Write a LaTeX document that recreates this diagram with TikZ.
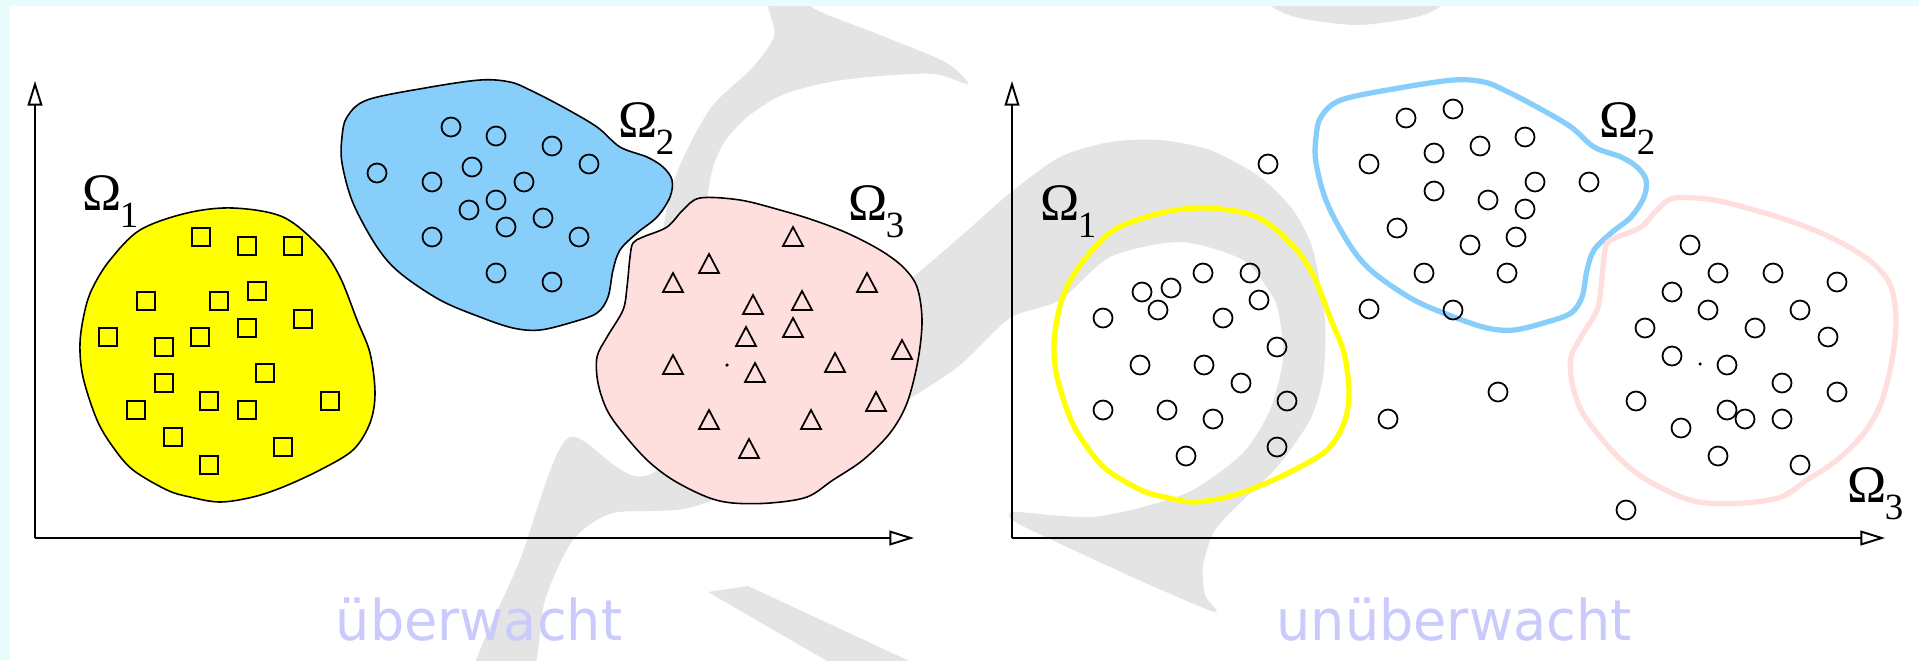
\documentclass[tikz,border=0pt]{standalone}
\usepackage{fontspec}
\usetikzlibrary{arrows.meta}
\newfontfamily\omfont{Liberation Serif}
\newfontfamily\capfont[FakeStretch=0.96]{DejaVu Sans}
\definecolor{yel}{RGB}{255,255,0}
\definecolor{blu}{RGB}{135,206,250}
\definecolor{pnk}{RGB}{255,222,222}
\definecolor{wm}{RGB}{228,228,228}
\definecolor{cyn}{RGB}{232,252,252}
\definecolor{lav}{RGB}{202,202,252}
\newcommand{\OmLab}[1]{{\omfont\fontsize{15}{18}\selectfont Ω\kern-0.6pt\raisebox{-5.1pt}{\fontsize{10.5}{12}\selectfont #1}}}
\tikzset{
  yfillst/.style={fill=yel, draw=black, line width=0.45pt},
  bfillst/.style={fill=blu, draw=black, line width=0.45pt},
  pfillst/.style={fill=pnk, draw=black, line width=0.45pt},
  ylinest/.style={draw=yel, line width=1.5pt},
  blinest/.style={draw=blu, line width=1.5pt},
  plinest/.style={draw=pnk, line width=1.5pt},
  mkst/.style={draw=black, line width=0.5pt},
  axst/.style={line width=0.55pt, -{Triangle[open, length=7pt, width=4.2pt]}},
  omst/.style={anchor=base west, inner sep=0pt},
  capst/.style={anchor=base, inner sep=0pt, text=lav, font={\capfont\fontsize{16}{19}\selectfont}}
}
\begin{document}
\begin{tikzpicture}[x=0.01cm, y=-0.01cm]
\useasboundingbox (0,0) rectangle (1919,660);
\fill[white] (0,0) rectangle (1919,660);
% watermark
\begin{scope}
\clip (0,0) rectangle (1919,660);
\fill[wm] plot[smooth cycle, tension=0.5] coordinates {(700,400) (652,330) (660,250) (671,190) (688,148) (713,105) (752,68) (774,36) (768,5) (770,-25) (800,-25) (810,6) (880,35) (945,62) (968,84) (935,74) (880,76) (830,82) (782,95) (746,118) (722,146) (710,180) (705,240) (712,330) (725,400)};
\fill[wm] plot[smooth cycle, tension=0.45] coordinates {(471,680) (520,560) (568,438) (645,476) (780,380) (870,310) (913,277) (960,237) (1010,193) (1060,157) (1110,142) (1160,140) (1210,150) (1260,177) (1293,210) (1313,250) (1325,320) (1323,377) (1310,420) (1277,467) (1243,500) (1215,530) (1203,565) (1205,595) (1215,612) (1150,585) (1080,553) (1015,522) (1012,512) (1050,515) (1093,517) (1143,507) (1193,490) (1243,453) (1270,410) (1283,360) (1280,320) (1273,297) (1243,260) (1180,242) (1110,257) (1060,300) (1010,318) (960,365) (907,400) (800,460) (693,507) (613,513) (573,540) (545,600) (530,680)};
\fill[wm] (708,592) -- (748,586) -- (950,680) -- (860,680) -- cycle;
\fill[wm] plot[smooth cycle, tension=0.5] coordinates {(1258,-10) (1265,2) (1295,17) (1358,25) (1420,16) (1446,2) (1450,-10)};
\end{scope}
\fill[cyn] (0,0) rectangle (1919,6);
\fill[cyn] (0,0) rectangle (10,660);
% regions
\foreach \dx/\ys/\bs/\ps in {0/yfillst/bfillst/pfillst, 974/ylinest/blinest/plinest}{
  \begin{scope}[xshift=\dx*0.01cm]
    \path[\ys] plot[smooth cycle, tension=0.55] coordinates {(233,208) (283,217) (320,247) (340,277) (357,320) (370,353) (375,393) (370,423) (353,450) (320,470) (283,487) (253,497) (220,502) (190,497) (167,490) (133,470) (113,447) (97,420) (83,377) (80,343) (85,310) (93,287) (110,260) (140,230) (187,213)};
    \path[\bs] plot[smooth cycle, tension=0.55] coordinates {(367,100) (425,88) (480,80) (510,82) (530,90) (563,107) (597,127) (620,147) (647,157) (663,167) (672,180) (670,197) (657,217) (637,233) (620,250) (613,270) (608,297) (597,313) (573,322) (540,330) (513,328) (480,317) (440,300) (400,273) (377,247) (353,203) (342,163) (342,137) (347,117)};
    \path[\ps] plot[smooth cycle, tension=0.55] coordinates {(700,198) (740,200) (780,210) (813,220) (847,233) (880,250) (903,267) (917,287) (922,320) (918,360) (907,403) (890,433) (863,460) (833,480) (807,497) (770,503) (733,503) (707,497) (673,480) (647,460) (623,433) (607,410) (598,383) (597,357) (607,337) (623,310) (627,287) (630,257) (633,243) (643,237) (667,227) (683,210)};
  \end{scope}
}
% left markers
\foreach \x/\y in {201/237,247/246,293/246,146/301,219/301,257/291,303/319,247/328,108/337,164/347,200/337,265/373,164/383,209/401,136/410,247/410,330/401,173/437,283/447,209/465}
  \draw[mkst] ({\x-9},{\y-9}) rectangle ({\x+9},{\y+9});
\foreach \x/\y in {451/127,377/173,432/182,472/167,469/210,432/237,496/136,552/146,589/164,524/182,496/200,543/218,506/227,579/237,496/273,552/282}
  \draw[mkst] (\x,\y) circle[radius=2.7pt];
\foreach \x/\y in {793/237,709/264,673/283,867/283,753/305,802/301,793/328,746/337,902/350,673/365,755/373,835/363,876/402,709/420,811/420,749/449}
  \draw[mkst, line join=miter] ({\x-10},{\y+9}) -- (\x,{\y-10}) -- ({\x+10},{\y+9}) -- cycle;
\fill (727,365) circle[radius=0.5pt];
% right markers
\foreach \x/\y in {1203/273,1250/273,1142/292,1171/288,1158/310,1223/318,1259/300,1103/318,1277/347,1140/365,1204/365,1241/383,1287/401,1103/410,1167/410,1213/419,1186/456,1277/447,
  1268/164,1369/309,1388/419,1498/392,1626/510,
  1453/109,1406/118,1480/146,1525/137,1434/153,1369/164,1535/182,1589/182,1434/191,1488/200,1525/209,1397/228,1516/237,1470/245,1424/273,1507/273,1453/310,
  1690/245,1718/273,1773/273,1837/282,1672/292,1708/310,1800/310,1645/328,1755/328,1828/337,1672/356,1727/365,1782/383,1837/392,1636/401,1727/410,1745/419,1782/419,1681/428,1718/456,1800/465}
  \draw[mkst] (\x,\y) circle[radius=2.7pt];
\fill (1700,364) circle[radius=0.5pt];
% axes
\coordinate (oL) at (35,538);
\coordinate (yL) at (35,81);
\coordinate (xL) at (914,538);
\coordinate (oR) at (1012,538);
\coordinate (yR) at (1012,81);
\coordinate (xR) at (1885,538);
\draw[axst] (oL) -- (yL);
\draw[axst] (oL) -- (xL);
\draw[axst] (oR) -- (yR);
\draw[axst] (oR) -- (xR);
% labels
\node[omst] (o1L) at (82,210) {\OmLab{1}};
\node[omst] (o2L) at (618,137) {\OmLab{2}};
\node[omst] (o3L) at (848,220) {\OmLab{3}};
\node[omst] (o1R) at (1040,220) {\OmLab{1}};
\node[omst] (o2R) at (1599,137) {\OmLab{2}};
\node[omst] (o3R) at (1847,502) {\OmLab{3}};
\node[capst] (capL) at (479,640) {überwacht};
\node[capst] (capR) at (1454,640) {unüberwacht};
\end{tikzpicture}
\end{document}
